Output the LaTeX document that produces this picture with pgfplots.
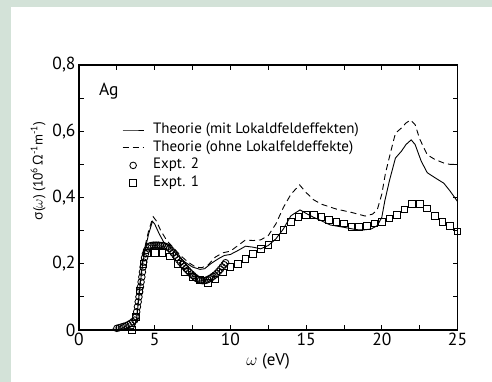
\documentclass[border=0pt]{standalone}
\usepackage{fontspec}
\setmainfont{PT Sans}
\newfontfamily\grk{Open Sans}
\usepackage{pgfplots}
\pgfplotsset{compat=1.18}
\definecolor{framegreen}{RGB}{211,226,216}
\begin{document}
\begin{tikzpicture}
\fill[framegreen] (0,0) rectangle (492bp,382bp);
\fill[white] (11bp,0) rectangle (492bp,374.5bp);
\begin{axis}[
  at={(79bp,52bp)}, anchor=south west,
  scale only axis, width=378.5bp, height=265bp,
  xmin=0, xmax=25, ymin=0, ymax=0.8,
  xtick={0,5,10,15,20,25}, minor xtick={2.5,7.5,12.5,17.5,22.5},
  ytick={0,0.2,0.4,0.6,0.8}, minor ytick={0.1,0.3,0.5,0.7},
  tick align=inside, major tick length=5bp, minor tick length=5bp,
  axis line style={line width=1.1bp},
  tick style={line width=0.8bp, black},
  tick label style={font=\fontsize{17.5bp}{20bp}\selectfont},
  /pgf/number format/assume math mode=true,
  yticklabel style={/pgf/number format/.cd, fixed, use comma, precision=1},
  xlabel={$\omega$ (eV)},
  ylabel={{\grk σ}($\omega$) (10\textsuperscript{6}\,{\grk Ω}\textsuperscript{-1}m\textsuperscript{-1})},
  xlabel style={font=\fontsize{17bp}{20bp}\selectfont},
  ylabel style={font=\fontsize{13.5bp}{16bp}\selectfont, at={(ticklabel cs:0.6)}},
  clip=false,
  legend cell align=left,
  legend image code/.code={\draw[mark repeat=2,mark phase=2,#1] plot coordinates {(0bp,0bp) (10.5bp,0bp) (21bp,0bp)};},
  legend style={at={(axis cs:2.84,0.627)}, anchor=north west, draw=none, fill=none,
    inner sep=0pt, nodes={inner sep=0pt, text height=11bp, text depth=4bp}, row sep=2.7bp,
    font=\fontsize{15bp}{18bp}\selectfont,
    /tikz/every odd column/.append style={column sep=9bp}},
]
\addplot[black, line width=0.9bp] coordinates {
(1.2,0) (3.6,0.004) (3.8,0.03) (4.0,0.12) (4.2,0.2) (4.4,0.25) (4.6,0.29) (4.85,0.328)
(5.0,0.32) (5.3,0.29) (5.6,0.265) (6.0,0.25) (6.5,0.225) (7.0,0.205) (7.5,0.19) (8.0,0.183)
(8.3,0.185) (8.7,0.2) (9.2,0.215) (9.6,0.225) (10.0,0.228) (10.5,0.24) (11.0,0.253)
(11.5,0.25) (12.0,0.245) (12.5,0.255) (13.0,0.275) (13.5,0.305) (14.0,0.345) (14.6,0.3625)
(15.0,0.352) (15.5,0.34) (16.0,0.33) (16.6,0.317) (17.5,0.31) (18.3,0.303) (18.8,0.302)
(19.3,0.305) (19.7,0.315) (20.0,0.34) (20.2,0.39) (20.5,0.45) (20.9,0.519) (21.3,0.54)
(21.6,0.56) (21.94,0.574) (22.2,0.56) (22.6,0.51) (23.0,0.475) (23.5,0.46) (24.1,0.443)
(24.5,0.42) (25,0.388)
};
\addlegendentry{Theorie (mit Lokaldfeldeffekten)}
\addplot[black, line width=0.9bp, dash pattern=on 6bp off 4bp] coordinates {
(1.2,0) (3.6,0.004) (3.8,0.03) (4.0,0.13) (4.2,0.21) (4.4,0.26) (4.6,0.3) (4.9,0.342)
(5.1,0.33) (5.4,0.3) (5.8,0.27) (6.2,0.25) (6.7,0.225) (7.2,0.205) (7.7,0.19) (8.1,0.188)
(8.5,0.195) (9.0,0.22) (9.5,0.233) (10.0,0.238) (10.5,0.255) (11.0,0.272) (11.5,0.27)
(12.0,0.272) (12.5,0.285) (13.0,0.32) (13.5,0.37) (14.0,0.41) (14.57,0.438) (15.0,0.415)
(15.5,0.393) (16.0,0.38) (17.0,0.365) (18.0,0.355) (18.9,0.344) (19.4,0.35) (19.7,0.363)
(20.0,0.41) (20.24,0.473) (20.6,0.54) (20.9,0.594) (21.3,0.61) (21.6,0.625) (21.9,0.634)
(22.2,0.62) (22.5,0.577) (23.0,0.529) (23.5,0.515) (24.1,0.504) (24.5,0.5) (25,0.5)
};
\addlegendentry{Theorie (ohne Lokalfeldeffekte)}
\addplot[black, only marks, mark=o, mark size=3.3bp, mark options={solid, line width=0.85bp}] coordinates {
(2.5,0.005) (2.65,0.007) (2.8,0.009) (2.95,0.011) (3.1,0.013) (3.25,0.016) (3.4,0.02)
(3.55,0.025) (3.68,0.03) (3.76,0.04) (3.81,0.055) (3.86,0.07) (3.91,0.085) (3.96,0.1)
(4.01,0.115) (4.06,0.13) (4.1,0.145) (4.15,0.16) (4.19,0.175) (4.23,0.19) (4.28,0.205)
(4.33,0.218) (4.39,0.23) (4.46,0.24) (4.55,0.248) (4.65,0.253) (4.77,0.255) (4.9,0.256)
(5.02,0.256) (5.14,0.256) (5.26,0.256) (5.38,0.255) (5.5,0.255) (5.62,0.254) (5.74,0.252)
(5.86,0.25) (5.98,0.246) (6.1,0.24) (6.22,0.233) (6.34,0.226) (6.46,0.219) (6.58,0.212)
(6.7,0.205) (6.82,0.198) (6.94,0.192) (7.06,0.186) (7.18,0.18) (7.3,0.174) (7.42,0.169)
(7.54,0.164) (7.66,0.159) (7.78,0.155) (7.9,0.152) (8.02,0.15) (8.14,0.149) (8.26,0.149)
(8.38,0.15) (8.5,0.152) (8.62,0.155) (8.74,0.158) (8.86,0.162) (8.98,0.166) (9.1,0.171)
(9.22,0.177) (9.34,0.183) (9.46,0.19) (9.58,0.197) (9.68,0.203)
};
\addlegendentry{Expt. 2}
\addplot[black, only marks, mark=square, mark size=3.3bp, mark options={solid, line width=0.85bp}] coordinates {
(3.5,0.0) (3.75,0.04) (4.0,0.12) (4.25,0.2) (4.5,0.232) (5.0,0.232) (5.5,0.232) (6.0,0.222)
(6.5,0.2) (7.0,0.176) (7.5,0.161) (8.0,0.151) (8.5,0.143) (9.0,0.153) (9.5,0.174) (10.0,0.19)
(10.5,0.2) (11.0,0.215) (11.5,0.23) (12.0,0.244) (12.5,0.257) (13.0,0.28) (13.5,0.302)
(14.0,0.327) (14.5,0.342) (15.0,0.347) (15.5,0.347) (16.0,0.342) (16.5,0.332) (17.0,0.327)
(17.5,0.322) (18.0,0.312) (18.5,0.312) (19.0,0.315) (19.5,0.322) (20.0,0.327) (20.5,0.337)
(21.0,0.347) (21.5,0.364) (22.0,0.38) (22.5,0.38) (23.0,0.367) (23.5,0.345) (24.0,0.327)
(24.5,0.315) (25.0,0.298)
};
\addlegendentry{Expt. 1}
\node[font=\fontsize{17.5bp}{20bp}\selectfont] at (axis cs:1.97,0.72) {Ag};
\end{axis}
\pgfresetboundingbox
\useasboundingbox (0,0) rectangle (492bp,382bp);
\end{tikzpicture}
\end{document}
